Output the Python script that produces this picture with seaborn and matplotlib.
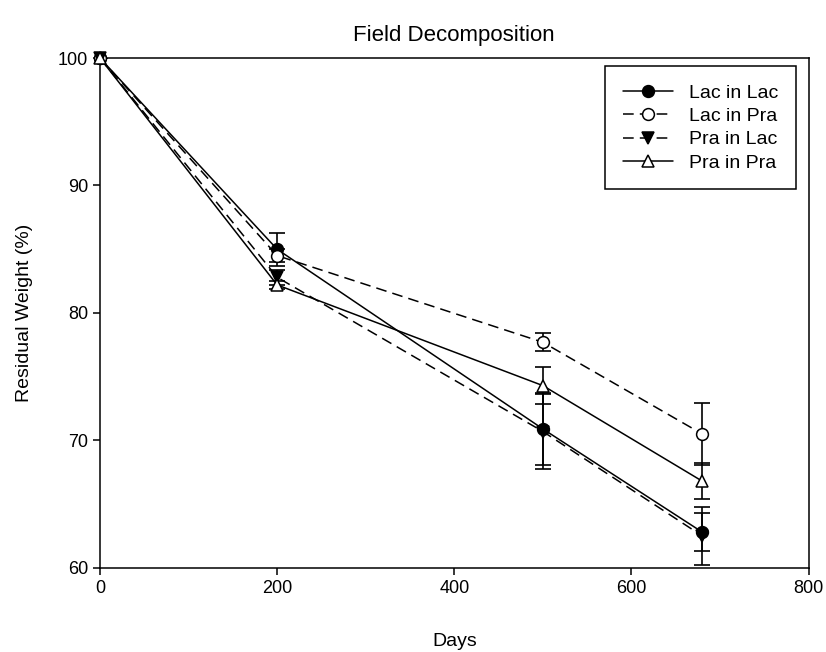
import matplotlib
matplotlib.use("Agg")
import matplotlib.pyplot as plt
import seaborn as sns
import pandas as pd

sns.set_theme(style="ticks")
plt.rcParams['font.family'] = ['Liberation Sans', 'DejaVu Sans']

days = [0, 200, 500, 680]
series_names = ["Lac in Lac", "Lac in Pra", "Pra in Lac", "Pra in Pra"]
lac_in_lac = [100, 85.0, 70.9, 62.8]
lac_in_lac_err = [0, 1.3, 2.85, 1.5]
lac_in_pra = [100, 84.5, 77.7, 70.5]
lac_in_pra_err = [0, 0.5, 0.7, 2.45]
pra_in_lac = [100, 82.8, 70.7, 62.5]
pra_in_lac_err = [0, 0.6, 2.95, 2.3]
pra_in_pra = [100, 82.2, 74.3, 66.8]
pra_in_pra_err = [0, 0.3, 1.45, 1.4]

values = [lac_in_lac, lac_in_pra, pra_in_lac, pra_in_pra]
errors = [lac_in_lac_err, lac_in_pra_err, pra_in_lac_err, pra_in_pra_err]
markers = ["o", "o", "v", "^"]
faces = ["black", "white", "black", "white"]
styles = ["-", (0, (7, 4)), (0, (7, 4)), "-"]

fig = plt.figure(figsize=(8.26, 6.52), dpi=100)
ax = fig.add_axes([0.121, 0.129, 0.858, 0.782])

for name, vals, errs, m, fc, ls in zip(series_names, values, errors, markers, faces, styles):
    df = pd.DataFrame({"Days": days, "w": vals})
    ax.errorbar(df["Days"], df["w"], yerr=errs, fmt="none", ecolor="black",
                elinewidth=1.2, capsize=6, capthick=1.2, zorder=2)
    sns.lineplot(data=df, x="Days", y="w", ax=ax, color="black", linewidth=1.1,
                 linestyle=ls, marker=m, markersize=8.5, markerfacecolor=fc,
                 markeredgecolor="black", markeredgewidth=1.1, label=name, zorder=3,
                 clip_on=False)

ax.set_xlim(0, 800)
ax.set_ylim(60, 100)
ax.set_xticks([0, 200, 400, 600, 800])
ax.set_yticks([60, 70, 80, 90, 100])
for s in ax.spines.values():
    s.set_visible(True)
    s.set_linewidth(1.1)
    s.set_color("black")
ax.tick_params(axis="both", direction="out", length=5, width=1.1, labelsize=13,
               colors="black", top=False, right=False)
ax.set_xlabel("Days", fontsize=14, labelpad=26, color="black")
ax.set_ylabel("Residual Weight (%)", fontsize=14, labelpad=18, color="black")
ax.set_title("Field Decomposition", fontsize=16, pad=12, color="black")

leg = ax.legend(loc="upper right", bbox_to_anchor=(0.99, 0.995), fontsize=14,
                frameon=True, fancybox=False, edgecolor="black", framealpha=1,
                handlelength=2.6, borderpad=0.9, labelspacing=0.3, borderaxespad=0.3)
leg.get_frame().set_linewidth(1.1)
for t in leg.get_texts():
    t.set_color("black")

fig.savefig("out.png", dpi=100)
